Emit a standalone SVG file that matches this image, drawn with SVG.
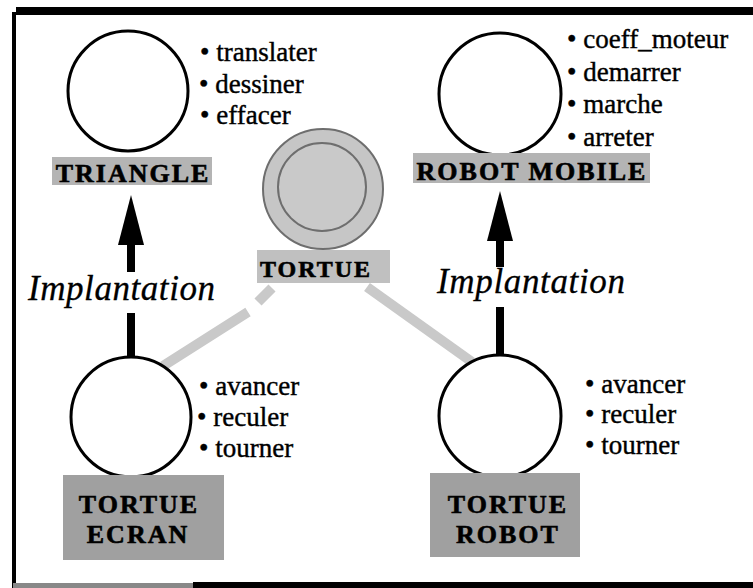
<svg xmlns="http://www.w3.org/2000/svg" width="753" height="588" viewBox="0 0 753 588">
<defs>
<style>
.c{fill:#fff;stroke:#000;stroke-width:3}
.b{font-family:"Liberation Serif","Times New Roman",serif;font-size:27px;fill:#000;stroke:#000;stroke-width:0.4}
.lbl{font-family:"Liberation Serif","Times New Roman",serif;font-size:26px;font-weight:bold;fill:#000;stroke:#000;stroke-width:0.6;letter-spacing:2px;text-anchor:middle}
.boxL{fill:#b4b4b4}
.boxD{fill:#a0a0a0}
.imp{font-family:"Liberation Serif","Times New Roman",serif;font-size:35px;font-style:italic;fill:#000;stroke:#000;stroke-width:0.3}
.arr{stroke:#000;stroke-width:8;fill:none}
.band{stroke:#c9c9c9;stroke-width:10;fill:none}
</style>
<marker id="head" viewBox="0 0 50 26" refX="0" refY="13" markerWidth="50" markerHeight="26" markerUnits="userSpaceOnUse" orient="auto">
<path d="M0,0 L50,13 L0,26 Z" fill="#000"/>
</marker>
</defs>
<rect width="753" height="588" fill="#fff"/>
<g id="frame">
<rect x="16" y="7" width="737" height="8" fill="#000"/>
<rect x="12" y="12" width="4" height="576" fill="#000"/>
<rect x="13" y="583" width="180" height="5" fill="#888"/>
<rect x="193" y="582" width="560" height="6" fill="#000"/>
</g>
<g id="connectors">
<path class="band" d="M272,288 L258,302 M248,312 L163,366"/>
<path class="band" d="M367,287 L472,362"/>
<path class="arr" d="M131,272 L131,245" marker-end="url(#head)"/>
<path class="arr" d="M131,313 L131,357"/>
<path class="arr" d="M500,267 L500,241" marker-end="url(#head)"/>
<path class="arr" d="M500,307 L500,355"/>
<text class="imp" x="28" y="300" textLength="187">Implantation</text>
<text class="imp" x="437" y="293" textLength="188">Implantation</text>
</g>
<g id="triangle">
<circle class="c" cx="128" cy="91" r="60"/>
<rect class="boxL" x="52" y="157" width="160" height="28"/>
<text class="lbl" x="133" y="182">TRIANGLE</text>
<text class="b" x="200" y="61">• translater</text>
<text class="b" x="199" y="93">• dessiner</text>
<text class="b" x="200" y="124">• effacer</text>
</g>
<g id="robot-mobile">
<circle class="c" cx="500" cy="94" r="61"/>
<rect class="boxL" x="413" y="153" width="237" height="30"/>
<text class="lbl" x="532" y="180">ROBOT MOBILE</text>
<text class="b" x="567" y="48">• coeff_moteur</text>
<text class="b" x="567" y="81">• demarrer</text>
<text class="b" x="567" y="113">• marche</text>
<text class="b" x="567" y="146">• arreter</text>
</g>
<g id="tortue">
<circle cx="323" cy="189" r="60" fill="#c6c6c6" stroke="#6e6e6e" stroke-width="2"/>
<circle cx="322" cy="187" r="44" fill="#c9c9c9" stroke="#6e6e6e" stroke-width="2"/>
<rect x="257" y="250" width="133" height="33" fill="#c0c0c0"/>
<text class="lbl" x="316" y="277" style="font-size:24px">TORTUE</text>
</g>
<g id="tortue-ecran">
<circle class="c" cx="131" cy="417" r="60"/>
<rect class="boxD" x="63" y="475" width="161" height="85"/>
<text class="lbl" x="139" y="513">TORTUE</text>
<text class="lbl" x="138" y="543">ECRAN</text>
<text class="b" x="199" y="395">• avancer</text>
<text class="b" x="197" y="426">• reculer</text>
<text class="b" x="199" y="457">• tourner</text>
</g>
<g id="tortue-robot">
<circle class="c" cx="500" cy="416" r="61"/>
<rect class="boxD" x="430" y="473" width="150" height="84"/>
<text class="lbl" x="508" y="513">TORTUE</text>
<text class="lbl" x="508" y="543">ROBOT</text>
<text class="b" x="585" y="393">• avancer</text>
<text class="b" x="585" y="423">• reculer</text>
<text class="b" x="585" y="454">• tourner</text>
</g>
</svg>
